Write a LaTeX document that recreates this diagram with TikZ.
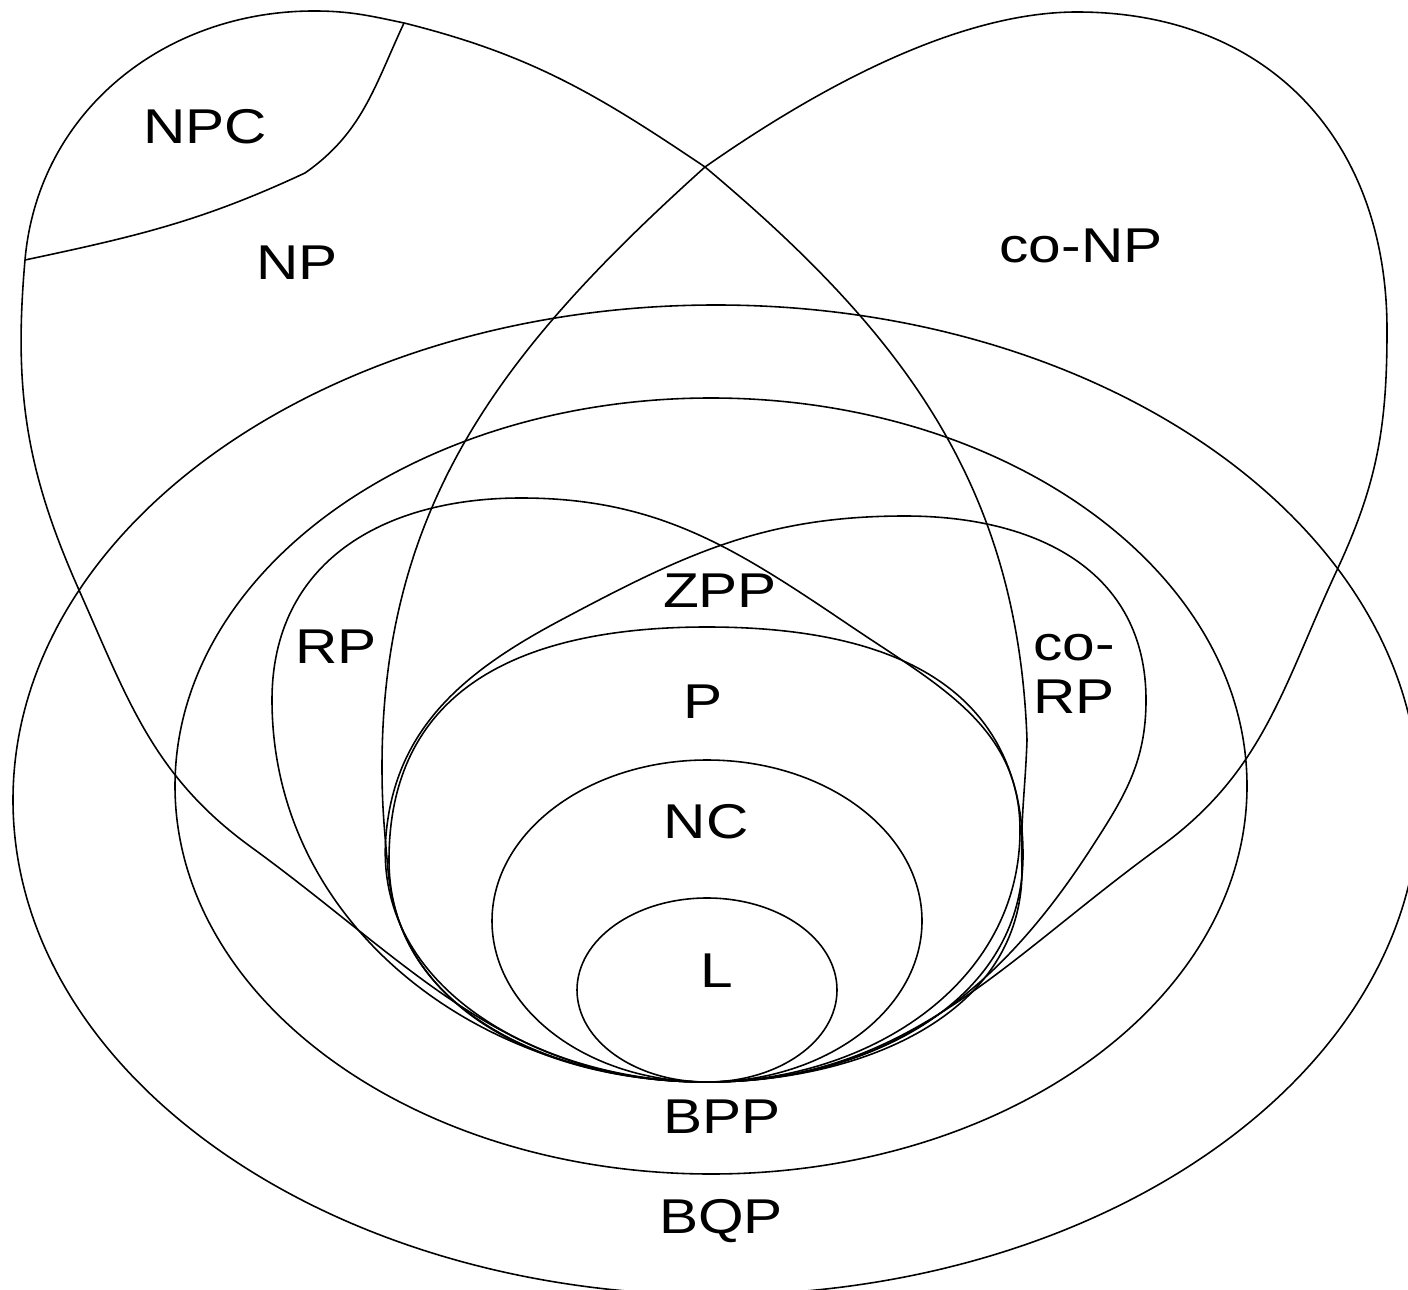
\documentclass[tikz,border=0pt]{standalone}
\usepackage{fontspec}
\setmainfont{Liberation Sans}[FakeStretch=1.2]
\tikzset{
  class/.style={line width=0.45pt, line join=round},
  classname/.style={anchor=base, inner sep=0pt, font=\fontsize{13.9pt}{15.1pt}\selectfont}
}

\begin{document}
\begin{tikzpicture}[x=0.1mm, y=-0.1mm]
\useasboundingbox (0,0) rectangle (1408,1290);
\clip (0,0) rectangle (1408,1290);
% common bottom point
\coordinate (bot) at (707,1082);
\coordinate (cross) at (705,167);
% NP
\coordinate (npA) at (251,847);
\coordinate (npB) at (79,590);
\coordinate (npC) at (25,260);
\coordinate (npTop) at (314,11);
\coordinate (npD) at (404,23);
\coordinate (npE) at (1027,740);
\coordinate (npF) at (1022,870);
\coordinate (npcA) at (305,173);
% co-NP
\coordinate (conpA) at (1160,847);
\coordinate (conpB) at (1337,570);
\coordinate (conpC) at (1387,330);
\coordinate (conpTop) at (1077,12);
\coordinate (conpD) at (382,767);
\coordinate (conpE) at (388,870);
% RP and co-RP
\coordinate (rpA) at (272,700);
\coordinate (rpTop) at (521,498);
\coordinate (rpB) at (852,627);
\coordinate (rpC) at (1020,830);
\coordinate (corpA) at (1090,850);
\coordinate (corpB) at (1146,700);
\coordinate (corpTop) at (905,516);
\coordinate (corpC) at (561,620);
\coordinate (corpD) at (386,835);
% P
\coordinate (pA) at (389,860);
\coordinate (pTop) at (707,627);
\coordinate (pB) at (1023,855);

\draw[class] (716,800) ellipse [x radius=703, y radius=495];
\draw[class] (711,786) ellipse [x radius=536, y radius=388];
\draw[class] (bot) to[out=180,in=-36] (npA) to[out=144,in=-66] (npB)
  to[out=114,in=-95] (npC) to[out=85,in=180] (npTop) to[out=0,in=168] (npD)
  to[out=-14,in=146] (cross) to[out=-40,in=92] (npE) to[out=-92,in=92] (npF)
  to[out=-90,in=0] (bot);
\draw[class] (npD) to[out=245,in=35] (npcA) to[out=205,in=12] (npC);
\draw[class] (bot) to[out=0,in=-144] (conpA) to[out=36,in=-115] (conpB)
  to[out=65,in=-90] (conpC) to[out=90,in=0,looseness=1.1] (conpTop)
  to[out=180,in=35,out looseness=0.7] (cross) to[out=222,in=90] (conpD)
  to[out=-90,in=95] (conpE) to[out=-85,in=180] (bot);
\draw[class] (bot) to[out=180,in=-90] (rpA) to[out=90,in=180,looseness=1.1] (rpTop)
  to[out=0,in=146] (rpB) to[out=-34,in=90] (rpC) to[out=-90,in=0] (bot);
\draw[class] (bot) to[out=0,in=-123] (corpA) to[out=57,in=-90] (corpB)
  to[out=90,in=0,looseness=1.1] (corpTop) to[out=180,in=28] (corpC)
  to[out=208,in=85] (corpD) to[out=-95,in=180] (bot);
\draw[class] (bot) to[out=180,in=-90] (pA) to[out=90,in=180,looseness=1.15] (pTop)
  to[out=0,in=90,looseness=1.15] (pB) to[out=-90,in=0] (bot);
\draw[class] (707,921) ellipse [x radius=215, y radius=161];
\draw[class] (707,990) ellipse [x radius=130, y radius=92];

\node[classname] (npcName) at (205,144) {NPC};
\node[classname] (npName) at (297,280) {NP};
\node[classname] (conpName) at (1081,263) {co-NP};
\node[classname] (rpName) at (336,663) {RP};
\node[classname] (zppName) at (720,607) {ZPP};
\node[classname] (pName) at (703,718) {P};
\node[classname, anchor=center, align=center] (corpName) at (1074,674) {co-\\RP};
\node[classname] (ncName) at (706,838) {NC};
\node[classname] (lName) at (717,987) {L};
\node[classname] (bppName) at (722,1133) {BPP};
\node[classname] (bqpName) at (721,1233) {BQP};
\end{tikzpicture}
\end{document}
